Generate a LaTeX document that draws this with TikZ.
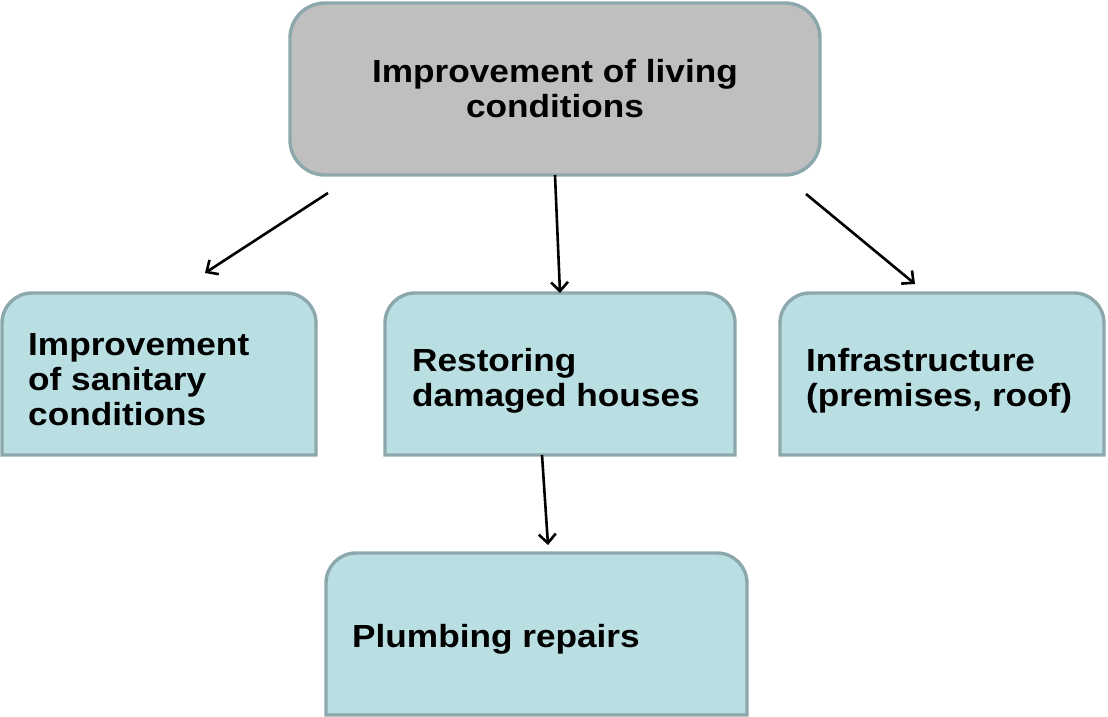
\documentclass[tikz,border=0pt]{standalone}
\usepackage{fontspec}
\setmainfont{Liberation Sans}[FakeStretch=1.1]
\usetikzlibrary{arrows.meta}
\definecolor{boxblue}{RGB}{186,223,226}
\definecolor{boxgray}{RGB}{191,191,191}
\definecolor{boxedge}{RGB}{140,168,172}
\newcommand\topround[5]{%
  \draw[boxline, fill=#5] (#1,#2) -- (#1,#4-30) arc[start angle=180,end angle=90,radius=30]
    -- (#3-30,#4) arc[start angle=90,end angle=0,radius=30] -- (#3,#2) -- cycle;}
\begin{document}
\begin{tikzpicture}[x=1pt,y=1pt,
  boxtext/.style={inner sep=0pt, font=\fontsize{32}{35}\selectfont\bfseries, align=left},
  conn/.style={line width=2.6pt, -{Straight Barb[length=9pt,width=17pt,line width=2.6pt]}},
  boxline/.style={draw=boxedge, line width=3.4pt}]
\useasboundingbox (0,0) rectangle (1108,717);
% shapes
\draw[boxline, fill=boxgray, rounded corners=35pt] (290,542) rectangle (820,714);
\topround{2}{262}{316}{424}{boxblue}
\topround{385}{262}{735}{424}{boxblue}
\topround{780}{262}{1104}{424}{boxblue}
\topround{326}{2}{747}{164}{boxblue}
% texts
\node[boxtext, align=center] (living) at (555,628) {Improvement of living\\conditions};
\node[boxtext, anchor=west] (sanit) at (28,337) {Improvement\\of sanitary\\conditions};
\node[boxtext, anchor=west] (restore) at (412,336) {Restoring\\damaged houses};
\node[boxtext, anchor=west] (infra) at (806,336) {Infrastructure\\(premises, roof)};
\node[boxtext, anchor=west] (plumb) at (352,78) {Plumbing repairs};
% connectors
\coordinate (a1s) at (328,524); \coordinate (a1e) at (205,444);
\coordinate (a2s) at (555,542); \coordinate (a2e) at (560,424);
\coordinate (a3s) at (806,523); \coordinate (a3e) at (915,433);
\coordinate (a4s) at (542,262); \coordinate (a4e) at (548,172);
\draw[conn] (a1s) -- (a1e);
\draw[conn] (a2s) -- (a2e);
\draw[conn] (a3s) -- (a3e);
\draw[conn] (a4s) -- (a4e);
\end{tikzpicture}
\end{document}
